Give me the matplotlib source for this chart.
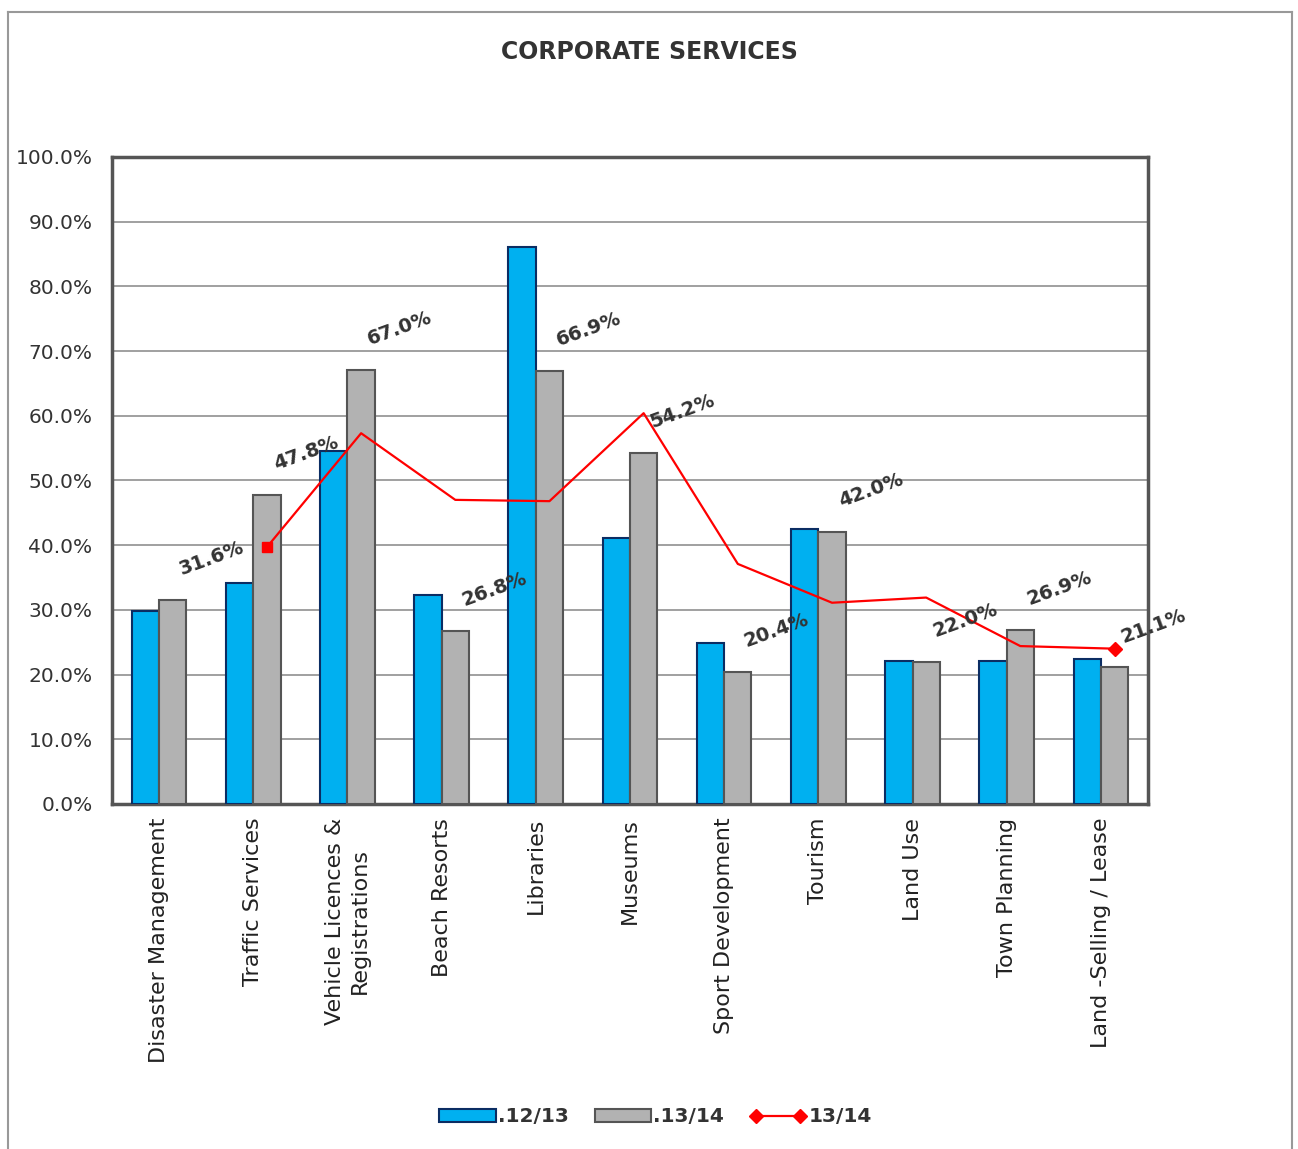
import matplotlib.pyplot as plt
import matplotlib.patches as mpatches
from matplotlib.lines import Line2D
import numpy as np

plt.rcParams['font.family'] = ['DejaVu Sans']

categories = ['Disaster Management', 'Traffic Services', 'Vehicle Licences &\nRegistrations',
              'Beach Resorts', 'Libraries', 'Museums', 'Sport Development', 'Tourism',
              'Land Use', 'Town Planning', 'Land -Selling / Lease']
prev_year = [29.9, 34.1, 54.6, 32.3, 86.1, 41.1, 24.9, 42.5, 22.1, 22.1, 22.4]
curr_year = [31.6, 47.8, 67.0, 26.8, 66.9, 54.2, 20.4, 42.0, 22.0, 26.9, 21.1]
# trend series has no value for the first category
trend = [np.nan, 39.7, 57.3, 47.0, 46.8, 60.4, 37.1, 31.1, 31.9, 24.4, 24.0]

blue = '#00B0F0'
grey = '#B2B2B2'
red = '#FF0000'

fig = plt.figure(figsize=(12.98, 11.49), dpi=100)
ax = fig.add_axes([0.0863, 0.3003, 0.7981, 0.5631])

x = np.arange(len(categories))
w = 0.29
ax.bar(x - w / 2, prev_year, w, color=blue, edgecolor='#0B2D63', linewidth=1.5, zorder=3)
ax.bar(x + w / 2, curr_year, w, color=grey, edgecolor='#555555', linewidth=1.5, zorder=3)

ax.plot(x + w / 2, trend, color=red, linewidth=1.6, zorder=4)
ax.plot(x[1] + w / 2, trend[1], marker='s', color=red, markersize=7, zorder=5)
ax.plot(x[-1] + w / 2, trend[-1], marker='D', color=red, markersize=7, zorder=5)

for xi, v in zip(x, curr_year):
    ax.annotate(f'{v:.1f}%', (xi + w / 2, v), xytext=(28, 30), textcoords='offset points',
                ha='center', va='center', rotation=20, fontsize=14, fontweight='bold',
                color='#333333', zorder=6)

ax.set_xlim(-0.5, len(categories) - 0.5)
ax.set_ylim(0, 100)
ax.set_yticks(np.arange(0, 101, 10))
ax.set_yticklabels([f'{t:.1f}%' for t in np.arange(0, 101, 10)], fontsize=14.5, color='#333333')
ax.set_xticks(x)
ax.set_xticklabels(categories, rotation=90, fontsize=16, color='#222222', va='top',
                   linespacing=1.3)
ax.tick_params(axis='y', length=0, pad=14)
ax.tick_params(axis='x', length=0, pad=10)
ax.grid(axis='y', color='#999999', linewidth=1.3, zorder=0)
for s in ax.spines.values():
    s.set_color('#555555')
    s.set_linewidth(2.5)

fig.text(0.5, 0.955, 'CORPORATE SERVICES', ha='center', va='center', fontsize=17,
         fontweight='bold', color='#333333')

handles = [mpatches.Patch(facecolor=blue, edgecolor='#0B2D63', linewidth=1.5),
           mpatches.Patch(facecolor=grey, edgecolor='#555555', linewidth=1.5),
           Line2D([0], [0], color=red, marker='D', markersize=7, linewidth=1.6)]
fig.legend(handles, ['.12/13', '.13/14', '13/14'], loc='center', bbox_to_anchor=(0.505, 0.028),
           ncol=3, frameon=False, numpoints=2, handlelength=2.8, handleheight=0.6,
           handletextpad=0.1, columnspacing=1.3, prop={'size': 14.5, 'weight': 'bold'},
           labelcolor='#333333')

# outer chart frame
for xs, ys in [([0.006, 0.006], [0, 0.9896]), ([0.006, 0.9954], [0.9896, 0.9896]),
               ([0.9954, 0.9954], [0.9896, 0])]:
    fig.add_artist(Line2D(xs, ys, color='#999999', linewidth=1.5, transform=fig.transFigure))

fig.savefig('out.png', dpi=100)
